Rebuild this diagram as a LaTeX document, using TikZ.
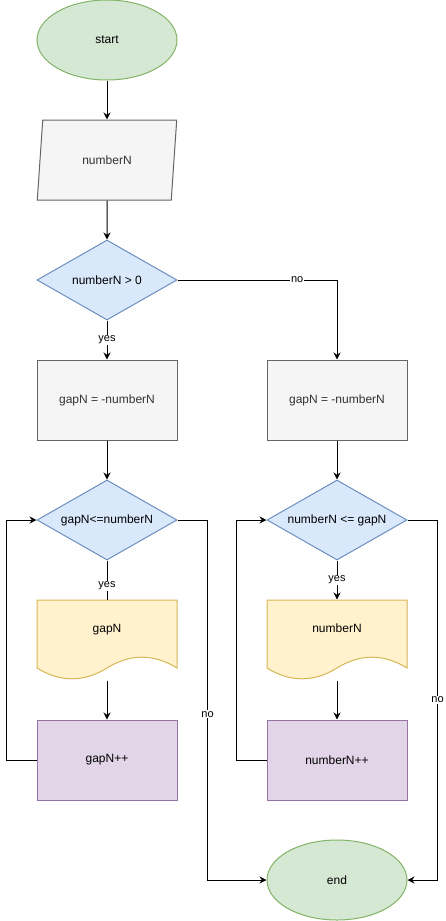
\documentclass[tikz,border=0pt]{standalone}
\usepackage{fontspec}
\setmainfont{Liberation Sans}
\usepackage{tikz}
\usetikzlibrary{arrows.meta,positioning,calc,shapes.geometric}
\usepackage{xcolor}
\definecolor{tgreen}{HTML}{D5E8D4}
\definecolor{tgreenl}{HTML}{82B366}
\definecolor{tgrey}{HTML}{F5F5F5}
\definecolor{tgreyl}{HTML}{666666}
\definecolor{tgreyt}{HTML}{333333}
\definecolor{tblue}{HTML}{DAE8FC}
\definecolor{tbluel}{HTML}{6C8EBF}
\definecolor{tyellow}{HTML}{FFF2CC}
\definecolor{tyellowl}{HTML}{D6B656}
\definecolor{tpurple}{HTML}{E1D5E7}
\definecolor{tpurplel}{HTML}{9673A6}
\tikzset{
  term/.style    = {draw=tgreenl, fill=tgreen, ellipse, inner sep=0pt,
                    minimum width=140pt, minimum height=80pt},
  inbox/.style   = {draw=tgreyl, fill=tgrey, text=tgreyt, trapezium,
                    trapezium left angle=76.6, trapezium right angle=103.4,
                    trapezium stretches=true, inner sep=0pt,
                    minimum width=140pt, minimum height=80pt},
  setbox/.style  = {draw=tgreyl, fill=tgrey, text=tgreyt, rectangle,
                    minimum width=140pt, minimum height=80pt},
  cond/.style    = {draw=tbluel, fill=tblue, diamond, aspect=1.75, inner sep=0pt,
                    minimum width=140pt, minimum height=80pt},
  outbox/.style  = {rectangle, inner sep=0pt, text height=9pt, text depth=24pt,
                    minimum width=140pt, minimum height=80pt},
  incbox/.style  = {draw=tpurplel, fill=tpurple, rectangle,
                    minimum width=140pt, minimum height=80pt},
  link/.style    = {line width=1pt},
  flow/.style    = {line width=1pt, -{Stealth[length=7pt,width=7pt]}},
  lbl/.style     = {fill=white, inner sep=1pt, font=\fontsize{11}{13}\selectfont},
}
% document shape drawn round a centre point (140 x 80, wavy bottom)
\newcommand{\wavedoc}[1]{\filldraw[draw=tyellowl, fill=tyellow, line width=1pt]
  ($(#1)+(70,-40)$) -- ($(#1)+(70,28)$)
  .. controls ($(#1)+(46.67,13.6)$) and ($(#1)+(23.33,13.6)$) .. ($(#1)+(0,28)$)
  .. controls ($(#1)+(-23.33,42.4)$) and ($(#1)+(-46.67,42.4)$) .. ($(#1)+(-70,28)$)
  -- ($(#1)+(-70,-40)$) -- cycle;}

\begin{document}
\begin{tikzpicture}[x=1pt,y=-1pt,font=\fontsize{12}{14}\selectfont,line width=1pt]
\useasboundingbox (0,0) rectangle (446,921);
% ---- main column ----
\node[term] (start) at (107,40) {start};
\node[inbox] (input) at (107,160) {numberN};
\node[cond] (sign) at (107,280) {numberN {\textgreater} 0};
\node[setbox] (setL) at (107,400) {gapN = -numberN};
\node[setbox] (setR) at (337,400) {gapN = -numberN};
\draw[flow] (start) -- (input);
\draw[flow] (input) -- (sign);
\draw[flow] (sign) -- node[lbl]{yes} (setL);
\draw[flow] (sign) -| node[lbl,pos=0.375]{no} (setR);
% ---- left loop ----
\node[cond] (loopL) at (107,520) {gapN{\textless}=numberN};
\wavedoc{107,640}
\node[outbox] (outL) at (107,640) {gapN};
\node[incbox] (incL) at (107,760) {gapN++};
\draw[flow] (setL) -- (loopL);
\draw[link] (loopL) -- node[lbl,pos=0.65]{yes} (outL);
\draw[flow] (outL) -- (incL);
\draw[flow] (incL.west) -- ++(-30,0) |- (loopL.west);
% ---- right loop ----
\node[cond] (loopR) at (337,520) {numberN {\textless}= gapN};
\wavedoc{337,640}
\node[outbox] (outR) at (337,640) {numberN};
\node[incbox] (incR) at (337,760) {numberN++};
\draw[flow] (setR) -- (loopR);
\draw[flow] (loopR) -- node[lbl]{yes} (outR);
\draw[flow] (outR) -- (incR);
\draw[flow] (incR.west) -- ++(-30,0) |- (loopR.west);
% ---- end ----
\node[term] (stop) at (337,880) {end};
\draw[flow] (loopL.east) -- ++(30,0) |- node[lbl,pos=0.27]{no} (stop.west);
\draw[flow] (loopR.east) -- ++(30,0) |- node[lbl,pos=0.25]{no} (stop.east);
\end{tikzpicture}
\end{document}
